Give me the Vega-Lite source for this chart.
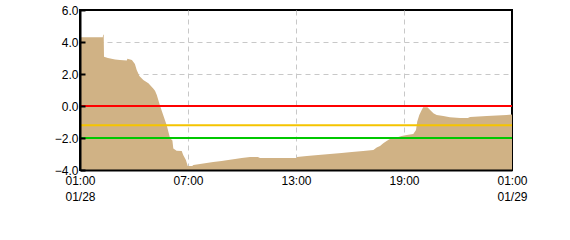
{
  "$schema": "https://vega.github.io/schema/vega-lite/v6.json",
  "autosize": "none",
  "width": 432,
  "height": 160,
  "padding": {"left": 80, "top": 10, "right": 58, "bottom": 70},
  "background": "white",
  "config": {
    "view": {"stroke": "black", "strokeWidth": 2},
    "font": "Liberation Sans",
    "axis": {"labelFont": "Liberation Sans", "labelFontSize": 12, "labelColor": "black", "labelFlush": false, "labelOverlap": false, "labelBound": false}
  },
  "datasets": {
    "level": [
      {"t": "2021-01-28T01:00", "v": 4.29},
      {"t": "2021-01-28T02:16", "v": 4.29},
      {"t": "2021-01-28T02:17", "v": 4.45},
      {"t": "2021-01-28T02:19", "v": 4.45},
      {"t": "2021-01-28T02:20", "v": 3.08},
      {"t": "2021-01-28T02:33", "v": 3.0},
      {"t": "2021-01-28T02:57", "v": 2.9},
      {"t": "2021-01-28T03:13", "v": 2.87},
      {"t": "2021-01-28T03:36", "v": 2.85},
      {"t": "2021-01-28T03:38", "v": 2.95},
      {"t": "2021-01-28T03:53", "v": 2.88},
      {"t": "2021-01-28T04:03", "v": 2.63},
      {"t": "2021-01-28T04:09", "v": 2.25},
      {"t": "2021-01-28T04:18", "v": 1.88},
      {"t": "2021-01-28T04:31", "v": 1.62},
      {"t": "2021-01-28T04:48", "v": 1.42},
      {"t": "2021-01-28T05:04", "v": 1.1},
      {"t": "2021-01-28T05:10", "v": 0.95},
      {"t": "2021-01-28T05:16", "v": 0.69},
      {"t": "2021-01-28T05:21", "v": 0.38},
      {"t": "2021-01-28T05:27", "v": 0.0},
      {"t": "2021-01-28T05:49", "v": -1.2},
      {"t": "2021-01-28T06:00", "v": -2.0},
      {"t": "2021-01-28T06:08", "v": -2.15},
      {"t": "2021-01-28T06:11", "v": -2.65},
      {"t": "2021-01-28T06:22", "v": -2.79},
      {"t": "2021-01-28T06:39", "v": -2.82},
      {"t": "2021-01-28T06:44", "v": -3.06},
      {"t": "2021-01-28T06:53", "v": -3.38},
      {"t": "2021-01-28T06:59", "v": -3.75},
      {"t": "2021-01-28T07:14", "v": -3.75},
      {"t": "2021-01-28T07:18", "v": -3.69},
      {"t": "2021-01-28T07:40", "v": -3.62},
      {"t": "2021-01-28T08:02", "v": -3.56},
      {"t": "2021-01-28T08:24", "v": -3.5},
      {"t": "2021-01-28T08:52", "v": -3.44},
      {"t": "2021-01-28T09:14", "v": -3.38},
      {"t": "2021-01-28T09:37", "v": -3.31},
      {"t": "2021-01-28T09:59", "v": -3.25},
      {"t": "2021-01-28T10:27", "v": -3.19},
      {"t": "2021-01-28T10:53", "v": -3.19},
      {"t": "2021-01-28T11:00", "v": -3.25},
      {"t": "2021-01-28T13:02", "v": -3.25},
      {"t": "2021-01-28T13:03", "v": -3.19},
      {"t": "2021-01-28T13:36", "v": -3.12},
      {"t": "2021-01-28T14:14", "v": -3.06},
      {"t": "2021-01-28T14:53", "v": -3.0},
      {"t": "2021-01-28T15:32", "v": -2.94},
      {"t": "2021-01-28T16:06", "v": -2.88},
      {"t": "2021-01-28T16:44", "v": -2.81},
      {"t": "2021-01-28T17:18", "v": -2.75},
      {"t": "2021-01-28T17:29", "v": -2.6},
      {"t": "2021-01-28T17:40", "v": -2.5},
      {"t": "2021-01-28T17:51", "v": -2.33},
      {"t": "2021-01-28T18:02", "v": -2.19},
      {"t": "2021-01-28T18:13", "v": -2.06},
      {"t": "2021-01-28T18:30", "v": -2.0},
      {"t": "2021-01-28T18:52", "v": -1.88},
      {"t": "2021-01-28T19:09", "v": -1.81},
      {"t": "2021-01-28T19:31", "v": -1.75},
      {"t": "2021-01-28T19:40", "v": -1.5},
      {"t": "2021-01-28T19:44", "v": -0.98},
      {"t": "2021-01-28T19:51", "v": -0.56},
      {"t": "2021-01-28T19:59", "v": -0.25},
      {"t": "2021-01-28T20:04", "v": -0.08},
      {"t": "2021-01-28T20:18", "v": -0.08},
      {"t": "2021-01-28T20:27", "v": -0.25},
      {"t": "2021-01-28T20:38", "v": -0.46},
      {"t": "2021-01-28T20:49", "v": -0.56},
      {"t": "2021-01-28T21:11", "v": -0.62},
      {"t": "2021-01-28T21:33", "v": -0.71},
      {"t": "2021-01-28T22:07", "v": -0.75},
      {"t": "2021-01-28T22:33", "v": -0.75},
      {"t": "2021-01-28T22:40", "v": -0.69},
      {"t": "2021-01-28T23:36", "v": -0.62},
      {"t": "2021-01-29T00:42", "v": -0.56},
      {"t": "2021-01-29T01:00", "v": -0.53}
    ],
    "thresholds": [
      {"name": "red", "level": 0.0},
      {"name": "orange", "level": -1.2},
      {"name": "green", "level": -2.0}
    ]
  },
  "resolve": {"axis": {"x": "independent", "y": "independent"}},
  "layer": [
    {
      "data": {"name": "level"},
      "mark": {"type": "area", "color": "#d0b285", "interpolate": "linear"},
      "encoding": {
        "x": {
          "field": "t", "type": "temporal",
          "scale": {"domain": [{"year": 2021, "month": 1, "date": 28, "hours": 1}, {"year": 2021, "month": 1, "date": 29, "hours": 1}]},
          "axis": {"orient": "bottom", "title": null, "grid": true, "gridColor": "#c8c8c8", "gridDash": [5, 4], "gridWidth": 1, "domain": false, "ticks": false, "labels": false, "zindex": 0,
            "values": [{"year": 2021, "month": 1, "date": 28, "hours": 7}, {"year": 2021, "month": 1, "date": 28, "hours": 13}, {"year": 2021, "month": 1, "date": 28, "hours": 19}]}
        },
        "y": {
          "field": "v", "type": "quantitative",
          "scale": {"domain": [-4, 6], "nice": false, "zero": false},
          "axis": {"orient": "left", "title": null, "grid": true, "gridColor": "#c8c8c8", "gridDash": [5, 4], "gridWidth": 1, "domain": false, "ticks": false, "labels": false, "zindex": 0, "values": [-2, 0, 2, 4]}
        },
        "y2": {"datum": -4}
      }
    },
    {
      "data": {"name": "thresholds"},
      "mark": {"type": "rule", "strokeWidth": 2},
      "encoding": {
        "y": {
          "field": "level", "type": "quantitative",
          "axis": {"orient": "left", "title": null, "grid": false, "domain": true, "domainColor": "black", "domainWidth": 2, "ticks": true, "tickSize": -5, "tickWidth": 2, "tickColor": "black", "labelPadding": 7, "format": ".1f", "zindex": 1, "values": [-4, -2, 0, 2, 4, 6]}
        },
        "color": {
          "field": "name", "type": "nominal",
          "scale": {"domain": ["red", "orange", "green"], "range": ["#ff0000", "#f5c400", "#00c800"]},
          "legend": null
        }
      }
    },
    {
      "data": {"name": "level"},
      "mark": {"type": "rule", "opacity": 0},
      "encoding": {
        "x": {
          "field": "t", "type": "temporal",
          "axis": {"orient": "bottom", "title": null, "grid": false, "domain": true, "domainColor": "black", "domainWidth": 2, "ticks": false, "labelPadding": 5, "labelBaseline": "top", "labelLineHeight": 16, "labelAlign": "center", "zindex": 1,
            "values": [{"year": 2021, "month": 1, "date": 28, "hours": 1}, {"year": 2021, "month": 1, "date": 28, "hours": 7}, {"year": 2021, "month": 1, "date": 28, "hours": 13}, {"year": 2021, "month": 1, "date": 28, "hours": 19}, {"year": 2021, "month": 1, "date": 29, "hours": 1}],
            "labelExpr": "hours(datum.value) == 1 ? [timeFormat(datum.value, '%H:%M'), timeFormat(datum.value, '%m/%d')] : timeFormat(datum.value, '%H:%M')"}
        }
      }
    }
  ]
}
